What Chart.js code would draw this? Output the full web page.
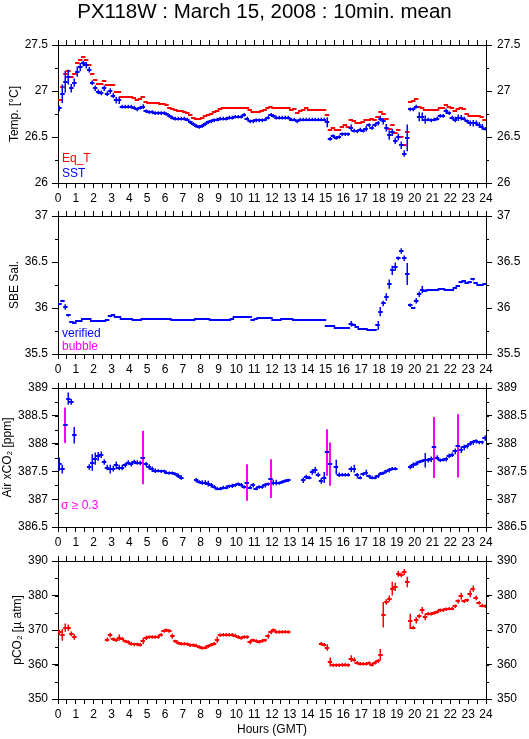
<!DOCTYPE html>
<html>
<head>
<meta charset="utf-8">
<script src="https://cdn.jsdelivr.net/npm/chart.js@4.4.1/dist/chart.umd.min.js"></script>
<style>
body { margin: 0; background: #fff; width: 529px; height: 739px; overflow: hidden; position: relative; }
canvas { position: absolute; left: 0; }
</style>
</head>
<body>
<canvas id="c1" width="529" height="207" style="top:0px;width:529px;height:207px"></canvas>
<canvas id="c2" width="529" height="176" style="top:202px;width:529px;height:176px"></canvas>
<canvas id="c3" width="529" height="177" style="top:374px;width:529px;height:177px"></canvas>
<canvas id="c4" width="529" height="192" style="top:547px;width:529px;height:192px"></canvas>
<script>
// 10-minute means, one value per bin (6 per hour, 144 per day), null = no data
const eqT = [
26.90, 27.04, 27.19, 27.22, 27.15, 27.18,
27.30, 27.34, 27.37, 27.34, 27.28, 27.19,
27.12, 27.08, 27.08, 27.11, 27.06, 27.07,
27.06, 26.99, 26.99, 26.93, 26.93, 26.93,
26.93, 26.92, 26.90, 26.91, 26.93, 26.88,
26.87, 26.87, 26.87, 26.87, 26.86, 26.86,
26.85, 26.82, 26.80, 26.79, 26.78, 26.78,
26.77, 26.76, 26.74, 26.71, 26.70, 26.70,
26.71, 26.73, 26.74, 26.75, 26.77, 26.78,
26.80, 26.81, 26.81, 26.81, 26.81, 26.81,
26.81, 26.81, 26.82, 26.82, 26.79, 26.77,
26.77, 26.77, 26.78, 26.79, 26.81, 26.83,
26.82, 26.81, 26.81, 26.81, 26.81, 26.81,
26.79, 26.80, 26.76, 26.78, 26.79, 26.81,
26.79, 26.79, 26.79, 26.79, 26.79, 26.79,
26.74, 26.58, 26.60, 26.58, 26.58, 26.61,
26.63, 26.61, 26.69, 26.67, 26.65, 26.65,
26.66, 26.68, 26.69, 26.70, 26.69, 26.72,
26.77, 26.75, 26.70, 26.59, 26.63, 26.54,
26.58, 26.50, 26.41, 26.55, 26.88, 26.89,
26.91, 26.83, 26.81, 26.79, 26.79, 26.79,
26.79, 26.79, 26.81, 26.81, 26.85, 26.83,
26.81, 26.78, 26.80, 26.81, 26.80, 26.75,
26.73, 26.73, 26.73, 26.73, 26.72, 26.69
];
const sst = [
26.81, 26.97, 27.10, 27.15, 27.03, 27.09,
27.21, 27.26, 27.30, 27.28, 27.23, 27.09,
27.03, 26.99, 26.98, 27.03, 26.97, 27.00,
26.95, 26.90, 26.90, 26.83, 26.83, 26.83,
26.83, 26.82, 26.80, 26.82, 26.83, 26.78,
26.77, 26.77, 26.76, 26.76, 26.76, 26.76,
26.75, 26.73, 26.71, 26.70, 26.70, 26.70,
26.70, 26.69, 26.66, 26.64, 26.62, 26.61,
26.62, 26.64, 26.66, 26.67, 26.68, 26.69,
26.70, 26.70, 26.70, 26.71, 26.71, 26.72,
26.72, 26.72, 26.74, 26.70, 26.67, 26.67,
26.68, 26.68, 26.68, 26.69, 26.71, 26.74,
26.73, 26.71, 26.71, 26.71, 26.71, 26.71,
26.69, 26.69, 26.67, 26.69, 26.69, 26.69,
26.69, 26.69, 26.69, 26.69, 26.69, 26.69,
26.66, 26.48, 26.51, 26.49, 26.50, 26.53,
26.53, 26.53, 26.60, 26.57, 26.56, 26.58,
26.57, 26.59, 26.63, 26.60, 26.63, 26.65,
26.70, 26.67, 26.60, 26.52, 26.55, 26.46,
26.50, 26.41, 26.32, 26.49, 26.80, 26.80,
26.83, 26.72, 26.72, 26.69, 26.69, 26.68,
26.69, 26.70, 26.73, 26.73, 26.78, 26.76,
26.71, 26.69, 26.71, 26.71, 26.70, 26.67,
26.65, 26.65, 26.65, 26.63, 26.61, 26.59
];
const sstErr = [
0.03, 0.10, 0.12, 0.08, 0.045, 0.045,
0.055, 0.045, 0.03, 0.035, 0.03, 0.025,
0.03, 0.025, 0.025, 0.03, 0.025, 0.03,
0.025, 0.035, 0.04, 0.02, 0.02, 0.02,
0.02, 0.02, 0.02, 0.02, 0.025, 0.02,
0.02, 0.02, 0.02, 0.02, 0.02, 0.02,
0.02, 0.02, 0.02, 0.02, 0.02, 0.02,
0.02, 0.02, 0.02, 0.02, 0.02, 0.02,
0.02, 0.02, 0.02, 0.02, 0.02, 0.02,
0.02, 0.02, 0.02, 0.02, 0.02, 0.02,
0.02, 0.02, 0.02, 0.02, 0.02, 0.02,
0.02, 0.02, 0.02, 0.02, 0.02, 0.02,
0.02, 0.02, 0.02, 0.02, 0.02, 0.02,
0.02, 0.02, 0.02, 0.02, 0.02, 0.02,
0.02, 0.02, 0.02, 0.02, 0.02, 0.02,
0.055, 0.02, 0.02, 0.02, 0.02, 0.02,
0.02, 0.02, 0.035, 0.02, 0.02, 0.02,
0.02, 0.03, 0.02, 0.02, 0.02, 0.025,
0.03, 0.035, 0.04, 0.05, 0.04, 0.035,
0.035, 0.04, 0.035, 0.145, 0.02, 0.02,
0.02, 0.05, 0.045, 0.045, 0.02, 0.02,
0.02, 0.02, 0.02, 0.02, 0.03, 0.02,
0.02, 0.03, 0.035, 0.03, 0.02, 0.02,
0.03, 0.035, 0.03, 0.03, 0.03, 0.02
];
const sal = [
36.04, 36.08, 36.01, 35.92, 35.85, 35.84,
35.86, 35.86, 35.88, 35.88, 35.88, 35.86,
35.86, 35.86, 35.86, 35.86, 35.87, 35.91,
35.92, 35.90, 35.90, 35.88, 35.88, 35.88,
35.88, 35.87, 35.87, 35.87, 35.88, 35.88,
35.88, 35.88, 35.88, 35.88, 35.88, 35.88,
35.88, 35.88, 35.865, 35.865, 35.865, 35.865,
35.865, 35.865, 35.865, 35.865, 35.88, 35.88,
35.88, 35.88, 35.88, 35.865, 35.865, 35.865,
35.875, 35.875, 35.875, 35.875, 35.88, 35.90,
35.90, 35.90, 35.90, 35.90, 35.90, 35.875,
35.885, 35.89, 35.89, 35.89, 35.89, 35.89,
35.875, 35.875, 35.875, 35.88, 35.88, 35.88,
35.88, 35.875, 35.87, 35.87, 35.865, 35.865,
35.865, 35.865, 35.865, 35.865, 35.865, 35.865,
35.80, 35.80, 35.80, 35.785, 35.78, 35.78,
35.78, 35.78, 35.83, 35.82, 35.79, 35.77,
35.77, 35.77, 35.76, 35.76, 35.765, 35.81,
35.96, 36.05, 36.12, 36.26, 36.41, 36.45,
36.54, 36.62, 36.54, 36.37, 36.03, 36.00,
36.08, 36.15, 36.20, 36.19, 36.20, 36.20,
36.20, 36.20, 36.21, 36.21, 36.20, 36.20,
36.20, 36.22, 36.24, 36.28, 36.29, 36.27,
36.28, 36.31, 36.27, 36.25, 36.25, 36.26
];
const salErr = [
0.01, 0.01, 0.03, 0.015, 0.01, 0.01,
0.005, 0.005, 0.005, 0.005, 0.005, 0.005,
0.005, 0.005, 0.005, 0.005, 0.005, 0.01,
0.01, 0.005, 0.005, 0.005, 0.005, 0.005,
0.005, 0.005, 0.005, 0.005, 0.005, 0.005,
0.005, 0.005, 0.005, 0.005, 0.005, 0.005,
0.005, 0.005, 0.005, 0.005, 0.005, 0.005,
0.005, 0.005, 0.005, 0.005, 0.005, 0.005,
0.005, 0.005, 0.005, 0.005, 0.005, 0.005,
0.005, 0.005, 0.005, 0.005, 0.005, 0.005,
0.005, 0.005, 0.005, 0.005, 0.005, 0.005,
0.005, 0.005, 0.005, 0.005, 0.005, 0.005,
0.005, 0.005, 0.005, 0.005, 0.005, 0.005,
0.005, 0.005, 0.005, 0.005, 0.005, 0.005,
0.005, 0.005, 0.005, 0.005, 0.005, 0.005,
0.005, 0.005, 0.005, 0.005, 0.005, 0.005,
0.005, 0.005, 0.03, 0.01, 0.005, 0.005,
0.005, 0.005, 0.005, 0.005, 0.005, 0.05,
0.05, 0.03, 0.04, 0.05, 0.05, 0.045,
0.02, 0.03, 0.03, 0.12, 0.02, 0.01,
0.03, 0.03, 0.04, 0.01, 0.005, 0.005,
0.005, 0.005, 0.005, 0.005, 0.005, 0.005,
0.005, 0.005, 0.01, 0.01, 0.01, 0.005,
0.01, 0.01, 0.005, 0.005, 0.005, 0.005
];
const xco2 = [
387.63, 387.54, 388.33, 388.81, 388.75, 388.15,
null, null, null, null, 387.58, 387.66,
387.73, 387.77, 387.80, 387.67, 387.57, 387.54,
387.55, 387.61, 387.57, 387.57, 387.61, 387.66,
387.63, 387.67, 387.66, 387.65, 387.75, 387.63,
387.58, 387.54, 387.51, 387.51, 387.50, 387.50,
387.48, 387.47, 387.47, 387.45, 387.42, 387.39,
null, null, null, null, 387.34, 387.31,
387.30, 387.30, 387.28, 387.25, 387.22, 387.19,
387.19, 387.21, 387.21, 387.23, 387.24, 387.25,
387.27, 387.26, 387.22, 387.30, 387.21, 387.25,
387.19, 387.22, 387.22, 387.25, 387.27, 387.37,
387.30, 387.30, 387.29, 387.31, 387.33, 387.34,
null, null, null, null, 387.34, 387.40,
387.39, 387.49, 387.52, 387.44, 387.33, 387.39,
387.84, 387.63, null, 387.58, 387.44, 387.44,
387.44, 387.44, 387.54, 387.55, 387.43, 387.39,
387.45, 387.48, 387.41, 387.39, 387.39, 387.41,
387.46, 387.47, 387.50, 387.52, 387.55, 387.55,
null, null, null, null, 387.58, 387.61,
387.64, 387.67, 387.69, 387.70, 387.70, 387.72,
387.93, 387.75, 387.70, 387.71, 387.72, 387.78,
387.80, 387.86, 387.96, 387.89, 387.93, 387.95,
388.00, 388.02, 388.04, 388.02, 388.02, 388.10
];
const xco2Sig = [
0.12, 0.08, 0.32, 0.11, 0.05, 0.15,
null, null, null, null, 0.05, 0.15,
0.11, 0.08, 0.06, 0.05, 0.05, 0.08,
0.05, 0.07, 0.05, 0.05, 0.04, 0.04,
0.04, 0.04, 0.04, 0.04, 0.48, 0.04,
0.05, 0.05, 0.04, 0.03, 0.03, 0.03,
0.03, 0.03, 0.03, 0.03, 0.04, 0.04,
null, null, null, null, 0.04, 0.03,
0.04, 0.04, 0.05, 0.04, 0.03, 0.03,
0.03, 0.03, 0.03, 0.03, 0.04, 0.03,
0.03, 0.03, 0.03, 0.33, 0.03, 0.04,
0.03, 0.03, 0.03, 0.04, 0.03, 0.35,
0.05, 0.05, 0.03, 0.03, 0.03, 0.03,
null, null, null, null, 0.05, 0.04,
0.03, 0.05, 0.06, 0.04, 0.05, 0.10,
0.42, 0.39, null, 0.13, 0.04, 0.03,
0.03, 0.03, 0.05, 0.07, 0.04, 0.03,
0.03, 0.05, 0.03, 0.03, 0.03, 0.03,
0.03, 0.03, 0.03, 0.04, 0.03, 0.03,
null, null, null, null, 0.04, 0.05,
0.04, 0.03, 0.03, 0.13, 0.04, 0.05,
0.55, 0.04, 0.03, 0.03, 0.04, 0.04,
0.04, 0.05, 0.57, 0.06, 0.05, 0.04,
0.04, 0.04, 0.04, 0.03, 0.03, 0.05
];
const pco2 = [
369.3, 368.6, 370.7, 370.7, 368.9, 368.0,
null, null, null, null, null, null,
null, null, null, null, 367.2, 368.5,
367.3, 367.0, 367.8, 367.5, 366.7, 366.5,
366.0, 365.8, 365.8, 365.7, 366.8, 367.7,
368.0, 368.0, 368.0, 368.0, 368.6, 369.7,
369.9, 369.7, 368.2, 366.7, 366.2, 366.0,
366.0, 365.9, 365.6, 365.6, 365.5, 365.1,
364.8, 364.9, 365.3, 365.7, 366.0, 367.2,
368.5, 368.6, 368.6, 368.6, 368.6, 368.4,
368.0, 367.7, 368.0, 368.0, 366.5, 367.0,
366.8, 366.6, 366.8, 367.0, 368.2, 369.4,
369.9, 369.4, 369.4, 369.4, 369.5, 369.4,
null, null, null, null, null, null,
null, null, null, null, 366.0, 365.7,
364.9, 360.7, 359.8, 359.8, 359.8, 359.9,
359.9, 359.8, 361.7, 361.4, 360.5, 360.2,
360.2, 360.2, 360.4, 359.9, 360.5, 361.0,
362.8, 374.4, 378.1, 379.1, 382.0, 382.5,
386.3, 386.0, 386.8, 383.9, 372.5, 370.7,
372.8, 374.0, 375.7, 373.8, 374.7, 374.7,
374.9, 375.2, 375.7, 375.7, 376.0, 376.2,
376.2, 376.9, 378.3, 379.8, 378.3, 378.6,
380.5, 382.0, 379.3, 377.9, 377.1, 376.9
];
const pco2Err = [
0.8, 1.7, 1.2, 0.9, 0.7, 0.8,
0, 0, 0, 0, 0, 0,
0, 0, 0, 0, 0.6, 0.7,
0.5, 0.5, 0.9, 0.5, 0.5, 0.5,
0.5, 0.5, 0.5, 0.5, 0.9, 0.6,
0.5, 0.5, 0.5, 0.5, 0.5, 0.5,
0.5, 0.5, 0.7, 0.5, 0.5, 0.5,
0.5, 0.5, 0.5, 0.5, 0.5, 0.5,
0.5, 0.5, 0.5, 0.5, 0.5, 0.9,
0.5, 0.5, 0.5, 0.5, 0.5, 0.5,
0.5, 0.5, 0.5, 0.5, 0.6, 0.5,
0.5, 0.5, 0.5, 0.5, 0.7, 0.6,
0.5, 0.5, 0.5, 0.5, 0.5, 0.5,
0, 0, 0, 0, 0, 0,
0, 0, 0, 0, 0.5, 0.5,
0.9, 1.3, 0.5, 0.5, 0.5, 0.5,
0.5, 0.5, 1.0, 0.6, 0.5, 0.5,
0.5, 0.5, 0.5, 0.5, 0.5, 0.6,
1.7, 3.7, 0.8, 0.9, 2.0, 1.2,
0.9, 0.7, 0.9, 1.5, 2.2, 0.5,
0.9, 0.6, 1.0, 1.0, 0.5, 0.5,
0.5, 0.5, 0.5, 0.5, 0.5, 0.5,
0.5, 0.5, 0.6, 1.0, 0.5, 0.5,
1.0, 0.9, 0.7, 0.5, 0.5, 0.5
];

const hourRange = [0, 24];
const tempRange = [26, 27.5];
const salRange = [35.5, 37];
const xco2Range = [386.5, 389];
const pco2Range = [350, 390];
const SIGMA_FLAG = 0.3;

const FONT = "'Liberation Sans', Arial, Helvetica, sans-serif";
Chart.defaults.font.family = FONT;
Chart.defaults.font.size = 12;
Chart.defaults.color = '#000';

const HALF_W = 0.125; // half width of the horizontal bar, hours

function points(vals, errs) {
  const out = [];
  vals.forEach((v, i) => {
    if (v !== null) out.push({ x: (i + 0.5) / 6, y: v, e: errs ? errs[i] : 0 });
  });
  return out;
}

// draws each mean as a horizontal bar plus a vertical std bar
const crosses = {
  id: 'crosses',
  afterDatasetsDraw(chart) {
    const { ctx, chartArea: a } = chart;
    const xs = chart.scales.x, ys = chart.scales.y;
    ctx.save();
    ctx.beginPath();
    ctx.rect(a.left, a.top, a.right - a.left, a.bottom - a.top);
    ctx.clip();
    chart.data.datasets.forEach((ds, i) => {
      chart.getDatasetMeta(i).data.forEach((el, j) => {
        const d = ds.data[j];
        const py = Math.round(el.y);
        if (d.e > 0) {
          const flagged = ds.flagAt && d.e >= ds.flagAt;
          ctx.strokeStyle = flagged ? ds.flagColor : ds.markColor;
          ctx.lineWidth = flagged ? 2 : 1.5;
          const px = flagged ? Math.round(el.x) : Math.round(el.x) + 0.25;
          ctx.beginPath();
          ctx.moveTo(px, ys.getPixelForValue(d.y + d.e));
          ctx.lineTo(px, ys.getPixelForValue(d.y - d.e));
          ctx.stroke();
        }
        ctx.strokeStyle = ds.markColor;
        ctx.lineWidth = 2;
        ctx.beginPath();
        ctx.moveTo(xs.getPixelForValue(d.x - HALF_W), py);
        ctx.lineTo(xs.getPixelForValue(d.x + HALF_W), py);
        ctx.stroke();
      });
    });
    ctx.restore();
  }
};

const minorTicks = {
  id: 'minorTicks',
  afterDraw(chart, args, opts) {
    const step = opts.step;
    if (!step) return;
    const ys = chart.scales.y, a = chart.chartArea, ctx = chart.ctx;
    ctx.save();
    ctx.strokeStyle = '#000';
    ctx.lineWidth = 1;
    ctx.beginPath();
    for (let v = ys.min + step; v < ys.max - step / 2; v += step) {
      const py = Math.round(ys.getPixelForValue(v)) + 0.5;
      ctx.moveTo(a.left, py); ctx.lineTo(a.left - 3, py);
      ctx.moveTo(a.right, py); ctx.lineTo(a.right + 3, py);
    }
    ctx.stroke();
    ctx.restore();
  }
};

function notes(items) {
  return {
    id: 'notes',
    afterDraw(chart) {
      const ctx = chart.ctx;
      ctx.save();
      ctx.font = '12px ' + FONT;
      ctx.textBaseline = 'alphabetic';
      ctx.textAlign = 'left';
      items.forEach(n => { ctx.fillStyle = n.color; ctx.fillText(n.text, n.x, n.y); });
      ctx.restore();
    }
  };
}

function xAxis(pos, h, showLabels, title) {
  return {
    type: 'linear', position: pos, min: hourRange[0], max: hourRange[1],
    afterFit: s => { s.height = h; },
    border: { display: true, color: '#000', width: 1 },
    grid: { drawOnChartArea: false, drawTicks: true, tickLength: 5, color: '#000' },
    ticks: {
      display: showLabels, stepSize: 0.5, autoSkip: false, maxRotation: 0, minRotation: 0,
      padding: 3, color: '#000',
      callback: v => Number.isInteger(v) ? String(v) : ''
    },
    title: title || { display: false }
  };
}

function yAxis(pos, range, step, title, titlePad) {
  return {
    type: 'linear', position: pos, min: range[0], max: range[1],
    afterFit: s => { s.width = pos === 'left' ? 58 : 43; },
    border: { display: true, color: '#000', width: 1 },
    grid: { drawOnChartArea: false, drawTicks: true, tickLength: 6, color: '#000' },
    ticks: { stepSize: step, padding: pos === 'left' ? 4 : 5, color: '#000',
      callback: v => String(Math.round(v * 100) / 100) },
    title: title ? { display: true, text: title, color: '#000', font: { size: 12 },
      padding: { top: titlePad, bottom: 0 } } : { display: false }
  };
}

function panel(id, cfg) {
  return new Chart(document.getElementById(id), {
    type: 'scatter',
    data: { datasets: cfg.datasets },
    options: {
      responsive: false, animation: false, devicePixelRatio: 1,
      layout: { padding: 0 },
      plugins: {
        legend: { display: false }, tooltip: { enabled: false },
        title: cfg.title || { display: false },
        minorTicks: { step: cfg.minor }
      },
      scales: {
        x: xAxis('bottom', cfg.bottomH, true, cfg.xTitle),
        xt: xAxis('top', cfg.topH, false),
        y: yAxis('left', cfg.range, cfg.step, cfg.yTitle, cfg.titlePad),
        yr: yAxis('right', cfg.range, cfg.step)
      }
    },
    plugins: [crosses, minorTicks, notes(cfg.notes)]
  });
}

const base = { showLine: false, pointRadius: 0, pointHoverRadius: 0 };

panel('c1', {
  title: { display: true, text: 'PX118W : March 15, 2008 : 10min. mean', color: '#000',
    font: { size: 20.5, weight: 'normal' }, padding: { top: 0, bottom: 0 } },
  topH: 20.4, bottomH: 24,
  range: tempRange, step: 0.5, minor: 0.25, yTitle: 'Temp. [°C]', titlePad: 7,
  datasets: [
    Object.assign({ data: points(eqT), markColor: '#ff0000' }, base),
    Object.assign({ data: points(sst, sstErr), markColor: '#0000ff' }, base)
  ],
  notes: [
    { text: 'Eq_T', x: 62, y: 162, color: '#ff0000' },
    { text: 'SST', x: 62, y: 177, color: '#0000ff' }
  ]
});

panel('c2', {
  topH: 14, bottomH: 24,
  range: salRange, step: 0.5, minor: 0.25, yTitle: 'SBE Sal.', titlePad: 7,
  datasets: [
    Object.assign({ data: points(sal, salErr), markColor: '#0000ff' }, base)
  ],
  notes: [
    { text: 'verified', x: 62, y: 134.5, color: '#0000ff' },
    { text: 'bubble', x: 62, y: 147.5, color: '#ff00ff' }
  ]
});

panel('c3', {
  topH: 14, bottomH: 24,
  range: xco2Range, step: 0.5, minor: 0.25, yTitle: 'Air xCO₂ [ppm]', titlePad: 0,
  datasets: [
    Object.assign({ data: points(xco2, xco2Sig), markColor: '#0000ff',
      flagAt: SIGMA_FLAG, flagColor: '#ff00ff' }, base)
  ],
  notes: [
    { text: 'σ ≥ 0.3', x: 61, y: 134.5, color: '#ff00ff' }
  ]
});

panel('c4', {
  topH: 14, bottomH: 40,
  xTitle: { display: true, text: 'Hours (GMT)', color: '#000', font: { size: 12 },
    padding: { top: 0, bottom: 2 } },
  range: pco2Range, step: 10, minor: 5, yTitle: 'pCO₂ [µ atm]', titlePad: 10,
  datasets: [
    Object.assign({ data: points(pco2, pco2Err), markColor: '#ff0000' }, base)
  ],
  notes: []
});
</script>
</body>
</html>
